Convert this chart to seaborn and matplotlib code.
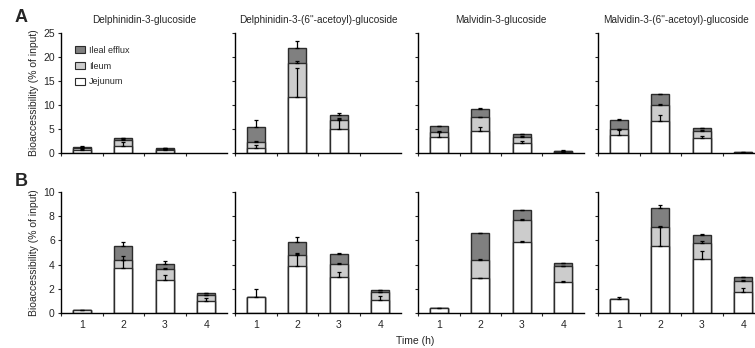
"""
Stacked bioaccessibility bars (jejunum / ileum / ileal efflux) per anthocyanin
"""
import numpy as np
import pandas as pd
import matplotlib
matplotlib.use("Agg")
import matplotlib.pyplot as plt
from matplotlib.patches import Patch
import seaborn as sns

times = [1, 2, 3, 4]
compounds = ["Delphinidin-3-glucoside", 'Delphinidin-3-(6"-acetoyl)-glucoside',
             "Malvidin-3-glucoside", 'Malvidin-3-(6"-acetoyl)-glucoside']

# row A (% of input), one list per compound, values at t = 1..4 h
A_jej = [[0.6, 1.5, 0.7, 0], [1.0, 11.7, 5.1, 0], [3.4, 4.65, 2.15, 0.3], [3.75, 6.7, 3.2, 0.1]]
A_ile = [[0.5, 1.2, 0.2, 0], [1.2, 7.1, 1.8, 0], [0.9, 2.75, 1.25, 0.1], [1.15, 3.4, 1.45, 0.03]]
A_eff = [[0.2, 0.4, 0.1, 0], [3.3, 3.0, 1.0, 0], [1.3, 1.8, 0.5, 0.1], [2.0, 2.1, 0.55, 0.02]]
A_jej_err = [[0.2, 0.8, 0.1, 0], [0.7, 6.1, 1.9, 0], [1.0, 0.8, 0.4, 0.05], [1.0, 1.2, 0.3, 0]]
A_ile_err = [[0.1, 0.2, 0.05, 0], [0.2, 0.3, 0.4, 0], [0.2, 0.1, 0.1, 0], [0.1, 0.2, 0.1, 0]]
A_eff_err = [[0.1, 0.1, 0.05, 0], [1.3, 1.6, 0.5, 0], [0.1, 0.1, 0.1, 0.05], [0.1, 0.1, 0.1, 0.05]]

# row B
B_jej = [[0.25, 3.7, 2.73, 1.02], [1.3, 3.9, 3.0, 1.1], [0.38, 2.9, 5.9, 2.6], [1.15, 5.55, 4.43, 1.73]]
B_ile = [[0, 0.65, 0.91, 0.44], [0, 0.9, 1.05, 0.6], [0, 1.5, 1.8, 1.26], [0, 1.55, 1.33, 0.94]]
B_eff = [[0, 1.15, 0.44, 0.17], [0, 1.1, 0.85, 0.2], [0, 2.2, 0.8, 0.24], [0, 1.6, 0.69, 0.28]]
B_jej_err = [[0.03, 1.0, 0.37, 0.23], [0.7, 1.05, 0.4, 0.3], [0.03, 0.03, 0.05, 0.03], [0.2, 1.55, 0.67, 0.33]]
B_ile_err = [[0, 0.05, 0.1, 0.05], [0, 0.1, 0.05, 0.05], [0, 0.03, 0.03, 0.03], [0, 0.05, 0.22, 0.05]]
B_eff_err = [[0, 0.35, 0.19, 0.03], [0, 0.35, 0.05, 0.03], [0, 0.03, 0.05, 0.03], [0, 0.25, 0.05, 0.03]]

segments = ["Jejunum", "Ileum", "Ileal efflux"]
colors = {"Jejunum": "white", "Ileum": "#cccccc", "Ileal efflux": "#808080"}
EDGE = "#2b2b2b"

sns.set_style("ticks")
plt.rcParams["font.family"] = ["Liberation Sans", "DejaVu Sans"]

fig = plt.figure(figsize=(7.55, 3.48), dpi=100)

W, H = 755.0, 348.0
lefts = [61, 235, 418, 598]
width_px = 166
rows = [
    dict(bottom=153, top=33, ymax=25, step=5, jej=A_jej, ile=A_ile, eff=A_eff,
         errs=(A_jej_err, A_ile_err, A_eff_err), label="A", label_y=18),
    dict(bottom=313, top=192, ymax=10, step=2, jej=B_jej, ile=B_ile, eff=B_eff,
         errs=(B_jej_err, B_ile_err, B_eff_err), label="B", label_y=182),
]


def draw_panel(ax, jej, ile, eff, errs):
    jej = np.array(jej)
    ile = np.array(ile)
    eff = np.array(eff)
    tops = [jej, jej + ile, jej + ile + eff]
    df = pd.DataFrame({"time": times, "Jejunum": tops[0], "Ileum": tops[1], "Ileal efflux": tops[2]})
    # draw cumulative totals back-to-front so the stacks overlap
    for seg in segments[::-1]:
        sub = df[df[seg] > 0]
        if sub.empty:
            continue
        sns.barplot(data=sub, x="time", y=seg, order=times, color=colors[seg],
                    saturation=1, width=0.44, edgecolor=EDGE, linewidth=1.0, ax=ax)
    # upward-only error bars from each segment top
    for top, err, vals in zip(tops, errs, [jej, ile, eff]):
        err = np.array(err)
        xs = np.arange(len(times))
        m = (vals > 0) & (err > 0)
        ax.errorbar(xs[m], top[m], yerr=[np.zeros(m.sum()), err[m]], fmt="none",
                    ecolor="black", elinewidth=0.9, capsize=1.6, capthick=0.9)


for r, row in enumerate(rows):
    for c in range(4):
        rect = [lefts[c] / W, 1 - row["bottom"] / H, width_px / W, (row["bottom"] - row["top"]) / H]
        ax = fig.add_axes(rect)
        draw_panel(ax, row["jej"][c], row["ile"][c], row["eff"][c], [e[c] for e in row["errs"]])
        ax.set_xlim(-0.5, 3.5)
        ax.set_ylim(0, row["ymax"])
        ax.set_yticks(np.arange(0, row["ymax"] + 0.1, row["step"]))
        ax.set_xticks([-0.5, 0.5, 1.5, 2.5])
        ax.set_xticklabels([])
        ax.set_xticks(range(4), minor=True)
        ax.tick_params(axis="x", which="minor", length=0, labelsize=7.5, pad=5)
        ax.tick_params(axis="both", which="major", length=2.5, width=0.8, labelsize=7.5, pad=2)
        if r == 1:
            ax.set_xticklabels([str(t) for t in times], minor=True)
        else:
            ax.set_xticklabels([], minor=True)
        ax.set_xlabel("")
        ax.set_ylabel("")
        if c == 0:
            ax.set_ylabel("Bioaccessibility (% of input)", fontsize=7.5, labelpad=3)
        else:
            ax.set_yticklabels([])
        if r == 0:
            # last panel runs past the figure edge, so centre its title on the visible part
            tx = 0.5 if c < 3 else 0.47
            ax.set_title(compounds[c], fontsize=7.2, pad=7, x=tx)
        for s in ["left", "bottom"]:
            ax.spines[s].set_linewidth(1.0)
            ax.spines[s].set_color("black")
        sns.despine(ax=ax)
        ax.patch.set_alpha(0)
        if r == 0 and c == 0:
            handles = [Patch(facecolor=colors[s], edgecolor=EDGE, linewidth=0.8)
                       for s in segments[::-1]]
            ax.legend(handles, segments[::-1], loc="upper left", bbox_to_anchor=(0.06, 0.93),
                      frameon=False, fontsize=6.5, handlelength=1.1, handleheight=0.8,
                      labelspacing=0.75, handletextpad=0.4, borderpad=0)
    fig.text(15 / W, 1 - row["label_y"] / H, row["label"], fontsize=13, fontweight="bold",
             va="center", ha="left")

fig.text(415 / W, 1 - 341 / H, "Time (h)", fontsize=7.5, ha="center", va="center")

fig.savefig("out.png", dpi=100)
